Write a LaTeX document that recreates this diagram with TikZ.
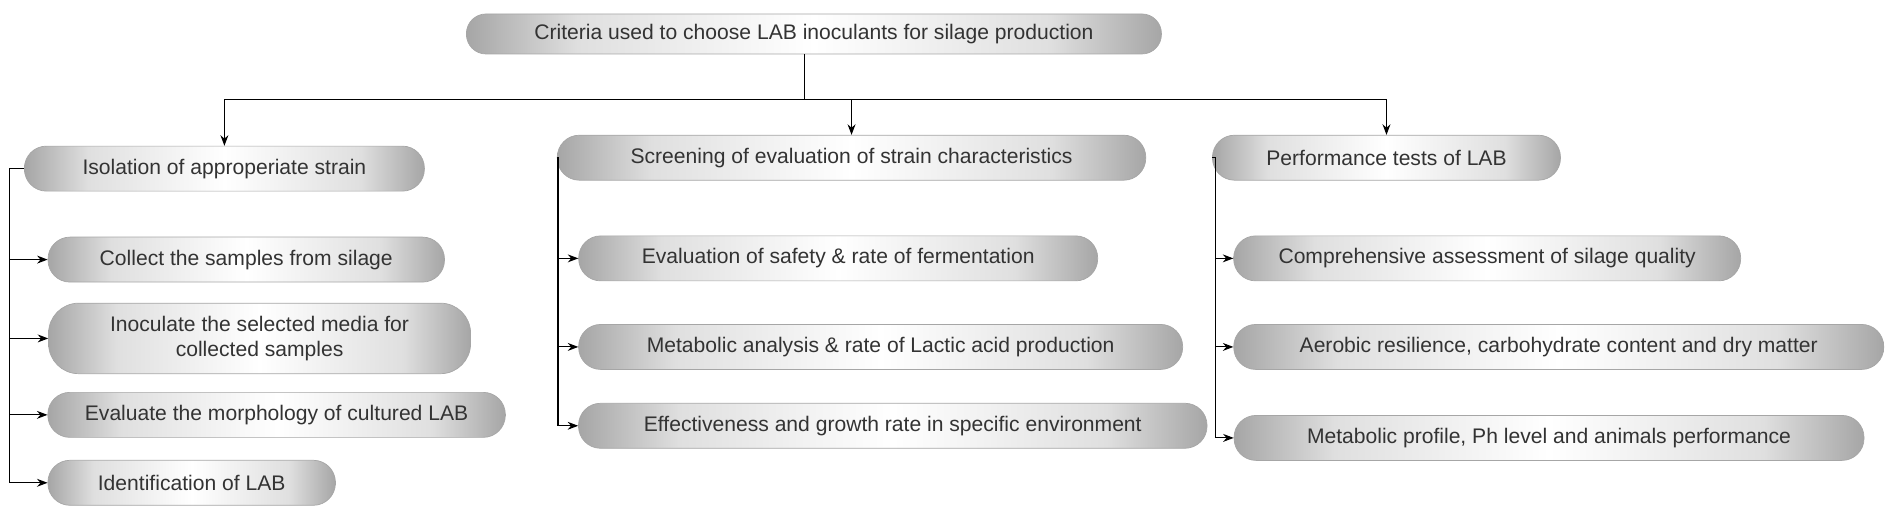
\documentclass[tikz,border=0pt]{standalone}
\usepackage{fontspec}
\setmainfont{Liberation Sans}
\usetikzlibrary{arrows.meta, positioning, calc}
\pgfdeclarehorizontalshading{pillshade}{100bp}{color(0bp)=(gray!70); color(25bp)=(gray!70); color(33bp)=(gray!25); color(50bp)=(white); color(67bp)=(gray!25); color(75bp)=(gray!70); color(100bp)=(gray!70)}
\tikzset{
    pill/.style={rectangle, rounded corners=0.44cm, minimum height=0.9cm, text centered, draw=gray!70, shading=pillshade, font=\fontsize{12}{14}\selectfont, text=black!80, inner sep=2pt},
    arrow/.style={semithick,->,>={Stealth[length=6pt]}},
    link/.style={semithick}
}
\begin{document}
\begin{tikzpicture}[x=0.02426cm, y=-0.02426cm]
    \useasboundingbox (0,0) rectangle (1568,430);
    \node (title) [pill, minimum width=13.9cm, minimum height=0.8cm, rounded corners=0.39cm] at (671,28) {Criteria used to choose LAB inoculants for silage production};

    \node (iso) [pill, minimum width=8cm] at (185,139) {Isolation of approperiate strain};
    \node (collect) [pill, minimum width=7.93cm] at (203,214) {Collect the samples from silage};
    \node (inoc) [pill, minimum width=8.44cm, minimum height=1.41cm, rounded corners=0.6cm, align=center] at (214,279) {Inoculate the selected media for\\collected samples};
    \node (morph) [pill, minimum width=9.15cm] at (228,342) {Evaluate the morphology of cultured LAB};
    \node (ident) [pill, minimum width=5.75cm] at (158,398) {Identification of LAB};

    \node (screen) [pill, minimum width=11.77cm] at (702,130) {Screening of evaluation of strain characteristics};
    \node (safety) [pill, minimum width=10.38cm] at (691,213) {Evaluation of safety \& rate of fermentation};
    \node (metab) [pill, minimum width=12.08cm] at (726,286) {Metabolic analysis \& rate of Lactic acid production};
    \node (effect) [pill, minimum width=12.57cm] at (736,351) {Effectiveness and growth rate in specific environment};

    \node (perf) [pill, minimum width=6.96cm] at (1143,130) {Performance tests of LAB};
    \node (assess) [pill, minimum width=10.14cm] at (1226,213) {Comprehensive assessment of silage quality};
    \node (aerobic) [pill, minimum width=13cm] at (1285,286) {Aerobic resilience, carbohydrate content and dry matter};
    \node (profile) [pill, minimum width=12.6cm] at (1277,361) {Metabolic profile, Ph level and animals performance};

    % tree from the title
    \coordinate (hub) at (663,82);
    \draw [link] (title.south -| hub) -- (hub);
    \draw [arrow] (hub) -| (iso.north);
    \draw [arrow] (hub) -| (screen.north);
    \draw [arrow] (hub) -| (perf.north);

    % left rails
    \coordinate (r1) at (8,0);
    \coordinate (r2) at (460,0);
    \coordinate (r3) at (1002,0);
    \draw [link] (iso.west) -- (iso.west -| r1) -- (ident.west -| r1);
    \foreach \n in {collect, inoc, morph, ident}
        \draw [arrow] (\n.west -| r1) -- (\n.west);
    \draw [link] (screen.west) -- (screen.west -| r2) -- (effect.west -| r2);
    \foreach \n in {safety, metab, effect}
        \draw [arrow] (\n.west -| r2) -- (\n.west);
    \draw [link] (perf.west) -- (perf.west -| r3) -- (profile.west -| r3);
    \foreach \n in {assess, aerobic, profile}
        \draw [arrow] (\n.west -| r3) -- (\n.west);
\end{tikzpicture}
\end{document}
